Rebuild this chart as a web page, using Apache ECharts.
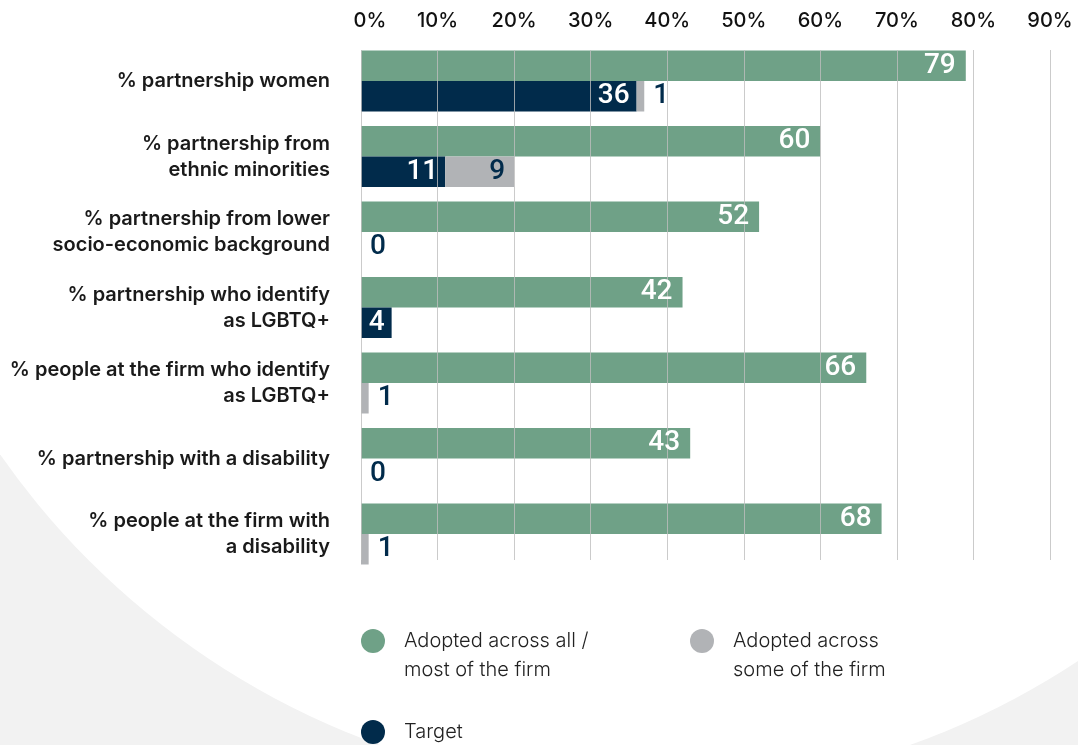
<!DOCTYPE html>
<html>
<head>
<meta charset="utf-8">
<script src="https://cdn.jsdelivr.net/npm/echarts@6/dist/echarts.min.js"></script>
<style>
  html, body { margin: 0; padding: 0; background: #f2f2f2; }
  #chart { width: 1078px; height: 745px; }
</style>
</head>
<body>
<div id="chart"></div>
<script>
// Diversity data-collection measures, share of firms (%)
const categories = [
  '% partnership women',
  '% partnership from\nethnic minorities',
  '% partnership from lower\nsocio-economic background',
  '% partnership who identify\nas LGBTQ+',
  '% people at the firm who identify\nas LGBTQ+',
  '% partnership with a disability',
  '% people at the firm with\na disability'
];
const adoptedAll = [79, 60, 52, 42, 66, 43, 68];
const target = [36, 11, 0, 4, 0, 0, 0];
const adoptedSome = [1, 9, 0, null, 1, 0, 1];
const axisMin = 0, axisMax = 90, axisStep = 10;

const NAME_ALL = 'Adopted across all /\nmost of the firm';
const NAME_SOME = 'Adopted across\nsome of the firm';
const NAME_TARGET = 'Target';

const GREEN = '#6fa187', NAVY = '#012b4b', GREY = '#b1b3b6';
const barFont = { fontFamily: 'Roboto, Liberation Sans, sans-serif', fontWeight: 500, fontSize: 28 };
const BAR_W = 30.5;

const chart = echarts.init(document.getElementById('chart'), null, { renderer: 'canvas' });

const someValues = adoptedSome.map(v => v == null ? '-' : v);
const someLabelled = adoptedSome.map(v => v == null ? '-' : {
  value: v,
  label: { position: v >= 5 ? 'insideRight' : 'right' }
});

// three identical grids: 0 = bars, 1 = vertical gridlines (drawn over bars), 2 = value labels
const gridBox = { left: 361, right: 28, top: 43.25, height: 528.5 };
const hiddenValueAxis = idx => ({
  gridIndex: idx, type: 'value', min: axisMin, max: axisMax, interval: axisStep, show: false
});
const hiddenCatAxis = idx => ({ gridIndex: idx, type: 'category', data: categories, inverse: true, show: false });

const legendCommon = {
  padding: 0, itemWidth: 24, itemHeight: 24, icon: 'circle', selectedMode: false,
  textStyle: {
    fontFamily: 'Inter, sans-serif', fontWeight: 300, fontSize: 20, lineHeight: 29,
    color: '#222222', padding: [0, 0, 0, 14]
  }
};

chart.setOption({
  backgroundColor: '#f2f2f2',
  animation: false,
  graphic: {
    elements: [{
      type: 'circle', z: -10, silent: true,
      shape: { cx: 645, cy: 5, r: 786 },
      style: { fill: '#ffffff' }
    }]
  },
  grid: [
    gridBox,
    { left: 361, right: 28, top: 50, height: 510 },
    gridBox
  ],
  xAxis: [{
    gridIndex: 0, type: 'value', position: 'top',
    min: axisMin, max: axisMax, interval: axisStep,
    axisLine: { show: false }, axisTick: { show: false }, splitLine: { show: false },
    axisLabel: {
      margin: 12, color: '#111',
      fontFamily: 'Inter, sans-serif', fontWeight: 500, fontSize: 20,
      formatter: v => v === 0 ? '{first|0%}' : v + '%',
      rich: { first: { padding: [0, 0, 0, 18], fontFamily: 'Inter, sans-serif', fontWeight: 500, fontSize: 20, color: '#111' } }
    }
  }, {
    gridIndex: 1, type: 'value', z: 2,
    min: axisMin, max: axisMax, interval: axisStep,
    axisLine: { show: false }, axisTick: { show: false }, axisLabel: { show: false },
    splitLine: { show: true, lineStyle: { color: 'rgba(190,190,190,0.8)', width: 1 } }
  }, hiddenValueAxis(2)],
  yAxis: [{
    gridIndex: 0, type: 'category', data: categories, inverse: true,
    axisLine: { show: false }, axisTick: { show: false },
    axisLabel: {
      margin: 31, align: 'right', color: '#1a1a1a',
      fontFamily: 'Inter, sans-serif', fontWeight: 600, fontSize: 20, lineHeight: 26
    }
  }, hiddenCatAxis(1), hiddenCatAxis(2)],
  legend: [
    { ...legendCommon, left: 361, top: 597.5, data: [NAME_ALL], formatter: n => '\n' + n },
    { ...legendCommon, left: 690, top: 597.5, data: [NAME_SOME], formatter: n => '\n' + n },
    { ...legendCommon, left: 361, top: 717.5, data: [NAME_TARGET] }
  ],
  series: [
    // bars
    {
      name: NAME_ALL, type: 'bar', xAxisIndex: 0, yAxisIndex: 0, z: 1,
      barWidth: BAR_W, barGap: '0%', itemStyle: { color: GREEN }, data: adoptedAll
    }, {
      name: NAME_TARGET, type: 'bar', stack: 'bars', xAxisIndex: 0, yAxisIndex: 0, z: 1,
      barWidth: BAR_W, barGap: '0%', itemStyle: { color: NAVY }, data: target
    }, {
      name: NAME_SOME, type: 'bar', stack: 'bars', xAxisIndex: 0, yAxisIndex: 0, z: 1,
      barWidth: BAR_W, barGap: '0%', itemStyle: { color: GREY }, data: someValues
    },
    // value labels, laid out on the same scales above the gridlines
    {
      name: 'label-all', type: 'bar', xAxisIndex: 2, yAxisIndex: 2, z: 3, silent: true,
      barWidth: BAR_W, barGap: '0%', itemStyle: { color: 'transparent' },
      label: { show: true, position: 'insideRight', distance: 10, color: '#ffffff', ...barFont },
      data: adoptedAll
    }, {
      name: 'label-target', type: 'bar', stack: 'labels', xAxisIndex: 2, yAxisIndex: 2, z: 3, silent: true,
      barWidth: BAR_W, barGap: '0%', itemStyle: { color: 'transparent' },
      label: {
        show: true, position: 'insideRight', distance: 7, color: '#ffffff', ...barFont,
        formatter: p => p.value > 0 ? p.value : ''
      },
      data: target
    }, {
      name: 'label-some', type: 'bar', stack: 'labels', xAxisIndex: 2, yAxisIndex: 2, z: 3, silent: true,
      barWidth: BAR_W, barGap: '0%', itemStyle: { color: 'transparent' },
      label: { show: true, distance: 9, color: NAVY, ...barFont },
      data: someLabelled
    }
  ]
});
</script>
</body>
</html>
